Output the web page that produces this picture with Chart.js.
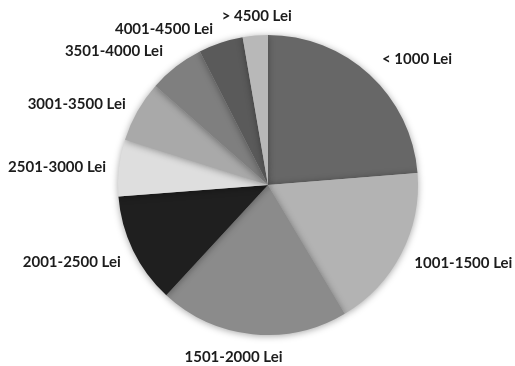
<!DOCTYPE html>
<html>
<head>
<meta charset="utf-8">
<script src="https://cdn.jsdelivr.net/npm/chart.js@4/dist/chart.umd.min.js"></script>
<style>
  html, body { margin: 0; padding: 0; background: #ffffff; }
  #wrap { width: 515px; height: 366px; }
</style>
</head>
<body>
<div id="wrap"><canvas id="c" width="515" height="366"></canvas></div>
<script>
// Income brackets and the share of respondents in each (%)
const categories = ['< 1000 Lei', '1001-1500 Lei', '1501-2000 Lei', '2001-2500 Lei',
                    '2501-3000 Lei', '3001-3500 Lei', '3501-4000 Lei', '4001-4500 Lei', '> 4500 Lei'];
const shares = [23.7, 17.7, 20.4, 11.9, 6.1, 6.6, 6.0, 4.8, 2.7];
const sliceColors = ['#676767', '#b3b3b3', '#8b8b8b', '#1f1f1f', '#dedede',
                     '#a9a9a9', '#7f7f7f', '#5a5a5a', '#b8b8b8'];

// Soft drop shadow under the pie
const pieShadow = {
  id: 'pieShadow',
  beforeDatasetsDraw(chart) {
    const ctx = chart.ctx;
    ctx.save();
    ctx.shadowColor = 'rgba(0,0,0,0.35)';
    ctx.shadowBlur = 7;
    ctx.shadowOffsetX = 0;
    ctx.shadowOffsetY = 1;
  },
  afterDatasetsDraw(chart) {
    chart.ctx.restore();
  }
};

// Category labels outside each slice, anchored on the slice's middle angle
const outsideLabels = {
  id: 'outsideLabels',
  afterDraw(chart, args, opts) {
    const ctx = chart.ctx;
    const meta = chart.getDatasetMeta(0);
    ctx.save();
    ctx.font = opts.font;
    ctx.fillStyle = opts.color;
    ctx.textBaseline = 'middle';
    meta.data.forEach((arc, i) => {
      const mid = (arc.startAngle + arc.endAngle) / 2;
      const r = arc.outerRadius + opts.offset;
      const ax = arc.x + Math.cos(mid) * r;
      const ay = arc.y + Math.sin(mid) * r;
      const text = chart.data.labels[i];
      const w = ctx.measureText(text).width;
      const s = Math.cos(mid);   // horizontal direction
      const v = Math.sin(mid);   // vertical direction
      const nudge = (opts.nudge && opts.nudge[i]) || [0, 0];
      const side = Math.abs(s) >= 0.2;
      let x, y = ay + v * opts.halfHeight * (side ? 0.2 : 1);
      if (s >= 0.2) { ctx.textAlign = 'left'; x = ax; }
      else if (s <= -0.2) { ctx.textAlign = 'right'; x = ax; }
      else { ctx.textAlign = 'center'; x = ax + s * w / 2; }
      ctx.fillText(text, x + nudge[0], y + nudge[1]);
    });
    ctx.restore();
  }
};

new Chart(document.getElementById('c'), {
  type: 'pie',
  data: {
    labels: categories,
    datasets: [{
      data: shares,
      backgroundColor: sliceColors,
      borderWidth: 0
    }]
  },
  options: {
    responsive: false,
    animation: false,
    layout: { padding: { top: 35, bottom: 31, left: 21, right: 0 } },
    plugins: {
      legend: { display: false },
      tooltip: { enabled: false },
      outsideLabels: {
        font: 'bold 15px Lato',
        color: '#1c1c1c',
        offset: 18,
        halfHeight: 7,
        nudge: [[0, -1], [-3, 0], [-12, -2], [4, 3], [5, 2], [4, 2], [-2, 0], [-2, 5], [6, 6]]
      }
    }
  },
  plugins: [pieShadow, outsideLabels]
});
</script>
</body>
</html>
